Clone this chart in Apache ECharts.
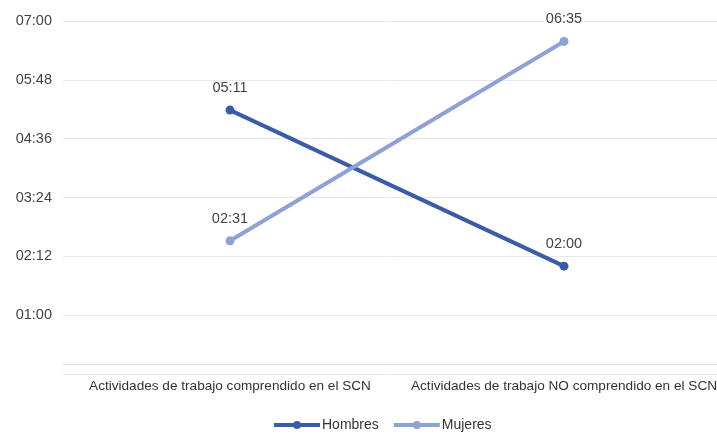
<!DOCTYPE html>
<html><head><meta charset="utf-8">
<script src="https://cdn.jsdelivr.net/npm/echarts@6/dist/echarts.min.js"></script>
<style>html,body{margin:0;padding:0;background:#fff}#c{width:717px;height:434px}</style>
</head><body><div id="c"></div>
<script>
const categories = ['Actividades de trabajo comprendido en el SCN', 'Actividades de trabajo NO comprendido en el SCN'];
// values in minutes
const hombres = [311, 120];
const mujeres = [151, 395];
const seriesNames = ['Hombres', 'Mujeres'];
const yMin = -12, yMax = 420, yStep = 72;

function fmt(v) {
  if (v < 0) return '';
  const h = Math.floor(v / 60), m = Math.round(v % 60);
  return String(h).padStart(2, '0') + ':' + String(m).padStart(2, '0');
}

const chart = echarts.init(document.getElementById('c'));
const font = 'Liberation Sans, Arial, sans-serif';
chart.setOption({
  animation: false,
  grid: { left: 63, top: 21, right: -14, bottom: 60, containLabel: false, outerBoundsMode: 'none' },
  legend: {
    top: 413, left: 267, itemWidth: 46, itemHeight: 10, itemGap: 13,
    lineStyle: { width: 4 },
    textStyle: { fontFamily: font, fontSize: 14, color: '#333', padding: [0, 0, 0, -3] },
    data: seriesNames
  },
  xAxis: {
    type: 'category', data: categories, boundaryGap: true,
    axisLine: { lineStyle: { color: '#dcdcdc', width: 1 } },
    axisTick: { show: false },
    axisLabel: { fontFamily: font, fontSize: 13.6, color: '#333', margin: 5, interval: 0 }
  },
  yAxis: {
    type: 'value', min: yMin, max: yMax, interval: yStep,
    axisLine: { show: false }, axisTick: { show: false },
    axisLabel: { formatter: fmt, fontFamily: font, fontSize: 14.5, color: '#444', margin: 11 },
    splitLine: { lineStyle: { color: '#e6e8ef', width: 1 } }
  },
  series: [
    {
      name: seriesNames[0], type: 'line', data: hombres,
      symbol: 'circle', symbolSize: 9,
      lineStyle: { width: 4, color: '#3a5ba8' }, itemStyle: { color: '#3a5ba8' },
      label: { show: true, position: 'top', distance: 10, formatter: p => fmt(p.value), fontFamily: font, fontSize: 14.5, color: '#444' }
    },
    {
      name: seriesNames[1], type: 'line', data: mujeres,
      symbol: 'circle', symbolSize: 9,
      lineStyle: { width: 4, color: '#8fa2d5' }, itemStyle: { color: '#8fa2d5' },
      label: { show: true, position: 'top', distance: 10, formatter: p => fmt(p.value), fontFamily: font, fontSize: 14.5, color: '#444' }
    }
  ]
});
</script>
</body></html>
